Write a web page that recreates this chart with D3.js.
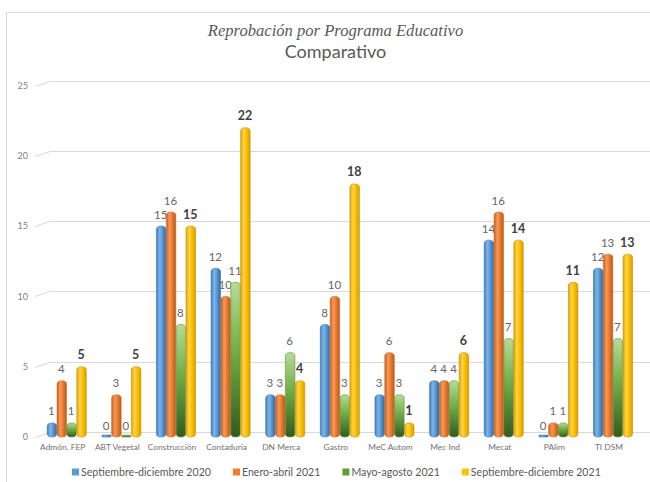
<!DOCTYPE html>
<html><head><meta charset="utf-8">
<script src="https://cdn.jsdelivr.net/npm/d3@7"></script>
<style>
html,body{margin:0;padding:0;background:#fff;}
svg{display:block;}
</style></head>
<body>
<script>
const categories = ["Admón. FEP","ABT Vegetal","Construcción","Contaduría","DN Merca","Gastro","MeC Autom","Mec Ind","Mecat","PAlim","TI DSM"];
const seriesNames = ["Septiembre-diciembre 2020","Enero-abril 2021","Mayo-agosto 2021","Septiembre-diciembre 2021"];
const sepDic2020 = [1,0,15,12,3,8,3,4,14,0,12];
const eneAbr2021 = [4,3,16,10,3,10,6,4,16,1,13];
const mayAgo2021 = [1,0,8,11,6,3,3,4,7,1,7];
const sepDic2021 = [5,5,15,22,4,18,1,6,14,11,13];
const yTicks = [0,5,10,15,20,25];
const seriesValues = [sepDic2020, eneAbr2021, mayAgo2021, sepDic2021];

const W = 650, H = 482;
const svg = d3.select("body").append("svg").attr("width", W).attr("height", H);
const defs = svg.append("defs");

const grads = [
  {id:"g0", dir:"h", stops:[["0%","#3f7fc0"],["35%","#7fb4e6"],["60%","#5b9bd5"],["100%","#2f6aa6"]], stroke:"#3a78b5"},
  {id:"g1", dir:"h", stops:[["0%","#c9621f"],["35%","#f59a5a"],["60%","#ed7d31"],["100%","#b85a1c"]], stroke:"#c8661f"},
  {id:"g2", dir:"v", stops:[["0%","#b5dc98"],["45%","#70ad47"],["100%","#335a20"]], stroke:"#5a8f38"},
  {id:"g3", dir:"h", stops:[["0%","#e6a800"],["35%","#ffd44d"],["60%","#ffc000"],["100%","#d9a000"]], stroke:"#b8900a"}
];
grads.forEach(g => {
  const lg = defs.append("linearGradient").attr("id", g.id)
    .attr("x1","0").attr("y1","0")
    .attr("x2", g.dir==="h" ? "1" : "0").attr("y2", g.dir==="h" ? "0" : "1");
  g.stops.forEach(s => lg.append("stop").attr("offset", s[0]).attr("stop-color", s[1]));
});
const legendColors = ["#5b9bd5","#ed7d31","#5f9e3a","#ffc000"];

// frame
svg.append("line").attr("x1",6.5).attr("y1",12.5).attr("x2",6.5).attr("y2",H).attr("stroke","#d9d9d9");
svg.append("line").attr("x1",6.5).attr("y1",12.5).attr("x2",W).attr("y2",12.5).attr("stroke","#d9d9d9");

// titles
svg.append("text").attr("x",335.5).attr("y",36).attr("text-anchor","middle")
  .attr("font-family","'Liberation Serif', serif").attr("font-style","italic")
  .attr("font-size",16.6).attr("fill","#595959").text("Reprobación por Programa Educativo");
svg.append("text").attr("x",335.5).attr("y",58).attr("text-anchor","middle")
  .attr("font-family","Lato, sans-serif").attr("font-size",18).attr("fill","#595959").text("Comparativo");

// scales
const y = d3.scaleLinear().domain([0,25]).range([437, 85.5]);
const x = d3.scaleBand().domain(categories).range([39.4, 640.3]).paddingInner(0.27).paddingOuter(0.135);
const xs = d3.scaleBand().domain(d3.range(4)).range([0, x.bandwidth()]).padding(0.04);

// gridlines with perspective offset
const grid = svg.append("g");
yTicks.forEach(t => {
  const yy = Math.round(y(t)) + 0.5;
  grid.append("path")
    .attr("d", `M35,${yy} L50,${yy-5} L${W},${yy-5}`)
    .attr("fill","none").attr("stroke","#d9d9d9").attr("stroke-width",1);
});

// y axis labels
const yAxis = d3.axisLeft(y).tickValues(yTicks).tickSize(0).tickPadding(0);
const ya = svg.append("g").attr("transform","translate(28,0)").call(yAxis);
ya.select(".domain").remove();
ya.selectAll("text").attr("font-family","Lato, sans-serif").attr("font-size",9).attr("fill","#808080");

// x axis labels
const xAxis = d3.axisBottom(x).tickSize(0).tickPadding(0);
const xa = svg.append("g").attr("transform","translate(-4,444)").call(xAxis);
xa.select(".domain").remove();
xa.selectAll("text").attr("font-family","Lato, sans-serif").attr("font-size",8.4).attr("fill","#707070");

// bars
const groups = svg.append("g").selectAll("g").data(categories).join("g")
  .attr("transform", d => `translate(${x(d)},0)`);
seriesValues.forEach((vals, s) => {
  groups.each(function(c, i) {
    const v = vals[i];
    const g = d3.select(this);
    const bw = xs.bandwidth();
    const x0 = xs(s);
    const top = y(v);
    const h = Math.max(y(0) - top, 2);
    g.append("rect").attr("x", x0).attr("y", y(0) - h).attr("width", bw).attr("height", h)
      .attr("rx", v === 0 ? 1 : 4.5).attr("ry", v === 0 ? 1 : 3.5)
      .attr("fill", `url(#g${s})`).attr("stroke", grads[s].stroke).attr("stroke-width", 0.6);
    const bold = s === 3;
    g.append("text").attr("x", x0 + bw/2 - 0.5).attr("y", top - 7.5)
      .attr("text-anchor","middle")
      .attr("font-family","Lato, sans-serif")
      .attr("font-size", bold ? 12.5 : 11.5)
      .attr("font-weight", bold ? "bold" : "normal")
      .attr("fill", bold ? "#404040" : "#666666")
      .text(v);
  });
});

// legend (items laid out left to right with equal gaps)
const lg = svg.append("g");
let lx = 72;
seriesNames.forEach((n, i) => {
  lg.append("rect").attr("x", lx).attr("y", 468.5).attr("width", 7).attr("height", 7)
    .attr("fill", legendColors[i]);
  const t = lg.append("text").attr("x", lx + 9).attr("y", 476).attr("font-family","Lato, sans-serif")
    .attr("font-size", 10.6).attr("fill","#595959").text(n);
  lx += 9 + t.node().getComputedTextLength() + 22;
});
</script>
</body></html>
